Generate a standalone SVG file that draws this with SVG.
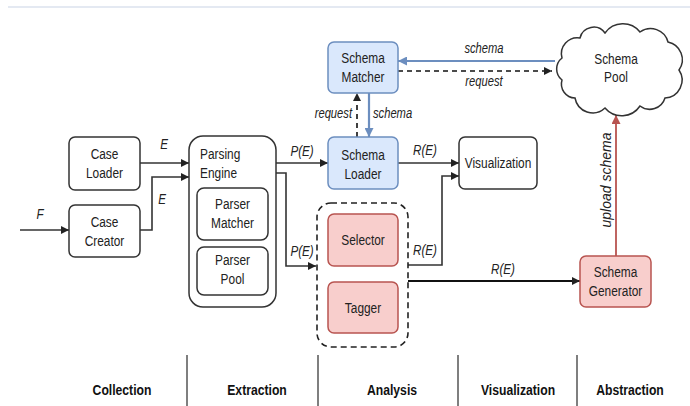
<svg xmlns="http://www.w3.org/2000/svg" width="690" height="406" viewBox="0 0 690 406">
<defs>
<style>
.box{fill:#fff;stroke:#333;stroke-width:1.5}
.blue{fill:#dae8fc;stroke:#6c8ebf;stroke-width:1.5}
.red{fill:#f8cecc;stroke:#b85450;stroke-width:1.5}
.t{font-family:"Liberation Sans",Arial,sans-serif;font-size:14.5px;fill:#222;text-anchor:middle}
.lbl{font-family:"Liberation Sans",Arial,sans-serif;font-size:14px;font-style:italic;fill:#222;text-anchor:middle}
.sec{font-family:"Liberation Sans",Arial,sans-serif;font-size:14.5px;font-weight:bold;fill:#111;text-anchor:middle}
.c{fill:none;stroke:#333;stroke-width:1.6}
.cd{fill:none;stroke:#111;stroke-width:1.6;stroke-dasharray:5 4}
.cb{fill:none;stroke:#6c8ebf;stroke-width:2.2}
.cr{fill:none;stroke:#b85450;stroke-width:1.8}
.div{stroke:#555;stroke-width:1.5}
</style>
<marker id="a" viewBox="0 0 10 10" refX="10" refY="5" markerWidth="8" markerHeight="8" markerUnits="userSpaceOnUse" orient="auto"><path d="M0,0 L10,5 L0,10 z" fill="#222"/></marker>
<marker id="ab" viewBox="0 0 10 10" refX="10" refY="5" markerWidth="9" markerHeight="9" markerUnits="userSpaceOnUse" orient="auto"><path d="M0,0 L10,5 L0,10 z" fill="#6c8ebf"/></marker>
<marker id="ar" viewBox="0 0 10 10" refX="10" refY="5" markerWidth="9" markerHeight="9" markerUnits="userSpaceOnUse" orient="auto"><path d="M0,0 L10,5 L0,10 z" fill="#b85450"/></marker>
</defs>
<rect width="690" height="406" fill="#fff"/>
<line x1="8" y1="7" x2="690" y2="7" stroke="#c9d3e6" stroke-width="1.2"/>

<g id="connectors">
<path class="c" d="M140,163 H189" marker-end="url(#a)"/>
<path class="c" d="M140,230 H152 V177 H189" marker-end="url(#a)"/>
<path class="c" d="M20,230 H69" marker-end="url(#a)"/>
<path class="c" d="M276,163 H328" marker-end="url(#a)"/>
<path class="c" d="M276,173 H286 V266 H316" marker-end="url(#a)"/>
<path class="c" d="M398,163 H459" marker-end="url(#a)"/>
<path class="c" d="M408,265 H442 V176 H459" marker-end="url(#a)"/>
<path class="c" d="M408,281 H580" marker-end="url(#a)" style="stroke:#111;stroke-width:2"/>
<path class="cr" d="M616,256 V115" marker-end="url(#ar)"/>
<path class="cb" d="M555,61 H398" marker-end="url(#ab)"/>
<path class="cd" d="M398,71 H552" marker-end="url(#a)"/>
<path class="cb" d="M369,93 V137" marker-end="url(#ab)"/>
<path class="cd" d="M357,137 V93" marker-end="url(#a)"/>
<text class="lbl" transform="translate(164 149) scale(.83 1)">E</text>
<text class="lbl" transform="translate(162 204) scale(.83 1)">E</text>
<text class="lbl" transform="translate(40 219) scale(.83 1)">F</text>
<text class="lbl" transform="translate(302 156) scale(.83 1)">P(E)</text>
<text class="lbl" transform="translate(302 256) scale(.83 1)">P(E)</text>
<text class="lbl" transform="translate(425 155) scale(.83 1)">R(E)</text>
<text class="lbl" transform="translate(425 255) scale(.83 1)">R(E)</text>
<text class="lbl" transform="translate(503 274) scale(.83 1)">R(E)</text>
<text class="lbl" transform="translate(484 53) scale(.8 1)">schema</text>
<text class="lbl" transform="translate(484 86) scale(.8 1)">request</text>
<text class="lbl" transform="translate(373 118) scale(.8 1)" style="text-anchor:start">schema</text>
<text class="lbl" transform="translate(352 118) scale(.8 1)" style="text-anchor:end">request</text>
<text class="lbl" transform="translate(611 180) rotate(-90)" style="font-size:14px">upload schema</text>
</g>

<g id="case-loader">
<rect class="box" x="69" y="137" width="71" height="53" rx="6"/>
<text class="t" transform="translate(104.5 159) scale(.82 1)">Case</text>
<text class="t" transform="translate(104.5 178) scale(.82 1)">Loader</text>
</g>
<g id="case-creator">
<rect class="box" x="69" y="205" width="71" height="52" rx="6"/>
<text class="t" transform="translate(104.5 226.5) scale(.82 1)">Case</text>
<text class="t" transform="translate(104.5 245.5) scale(.82 1)">Creator</text>
</g>
<g id="parsing-engine">
<rect class="box" x="189" y="136" width="87" height="171" rx="14"/>
<text class="t" transform="translate(200 158.5) scale(.82 1)" style="text-anchor:start">Parsing</text>
<text class="t" transform="translate(200 177.5) scale(.82 1)" style="text-anchor:start">Engine</text>
</g>
<g id="parser-matcher">
<rect class="box" x="197" y="188" width="71" height="52" rx="7"/>
<text class="t" transform="translate(232.5 208.5) scale(.82 1)">Parser</text>
<text class="t" transform="translate(232.5 227.5) scale(.82 1)">Matcher</text>
</g>
<g id="parser-pool">
<rect class="box" x="197" y="247" width="71" height="48" rx="7"/>
<text class="t" transform="translate(232.5 265) scale(.82 1)">Parser</text>
<text class="t" transform="translate(232.5 284) scale(.82 1)">Pool</text>
</g>
<g id="schema-matcher">
<rect class="blue" x="328" y="42" width="70" height="51" rx="6"/>
<text class="t" transform="translate(363 63) scale(.82 1)">Schema</text>
<text class="t" transform="translate(363 82) scale(.82 1)">Matcher</text>
</g>
<g id="schema-loader">
<rect class="blue" x="328" y="137" width="70" height="52" rx="6"/>
<text class="t" transform="translate(363 160) scale(.82 1)">Schema</text>
<text class="t" transform="translate(363 178.5) scale(.82 1)">Loader</text>
</g>
<g id="visualization">
<rect class="box" x="459" y="137" width="78" height="52" rx="6"/>
<text class="t" transform="translate(498 168) scale(.82 1)">Visualization</text>
</g>
<g id="analysis-group">
<rect x="317" y="203" width="91" height="144" rx="14" fill="none" stroke="#222" stroke-width="1.6" stroke-dasharray="6 4"/>
</g>
<g id="selector">
<rect class="red" x="328" y="214" width="70" height="52" rx="6"/>
<text class="t" transform="translate(363 245) scale(.82 1)">Selector</text>
</g>
<g id="tagger">
<rect class="red" x="328" y="282" width="70" height="51" rx="6"/>
<text class="t" transform="translate(363 312.5) scale(.82 1)">Tagger</text>
</g>
<g id="schema-generator">
<rect class="red" x="580" y="256" width="71" height="51" rx="6"/>
<text class="t" transform="translate(615.5 277) scale(.82 1)">Schema</text>
<text class="t" transform="translate(615.5 296) scale(.82 1)">Generator</text>
</g>
<g id="schema-pool">
<path class="box" d="M562,58 A16,16 0 0 1 580,38 A14,14 0 0 1 605,33 A22,22 0 0 1 640,32 A18,18 0 0 1 668,42 A18,18 0 0 1 679,70 A18,18 0 0 1 665,98 A16,16 0 0 1 640,106 A22,22 0 0 1 605,108 A18,18 0 0 1 575,98 A14,14 0 0 1 562,80 A14,14 0 0 1 562,58 Z"/>
<text class="t" transform="translate(616 64) scale(.82 1)">Schema</text>
<text class="t" transform="translate(616 82) scale(.82 1)">Pool</text>
</g>

<g id="sections">
<line class="div" x1="187" y1="355" x2="187" y2="406"/>
<line class="div" x1="318" y1="355" x2="318" y2="406"/>
<line class="div" x1="458" y1="355" x2="458" y2="406"/>
<line class="div" x1="577" y1="355" x2="577" y2="406"/>
<text class="sec" transform="translate(122 395) scale(.84 1)">Collection</text>
<text class="sec" transform="translate(257 395) scale(.84 1)">Extraction</text>
<text class="sec" transform="translate(392 395) scale(.84 1)">Analysis</text>
<text class="sec" transform="translate(518 395) scale(.84 1)">Visualization</text>
<text class="sec" transform="translate(630 395) scale(.84 1)">Abstraction</text>
</g>
</svg>
